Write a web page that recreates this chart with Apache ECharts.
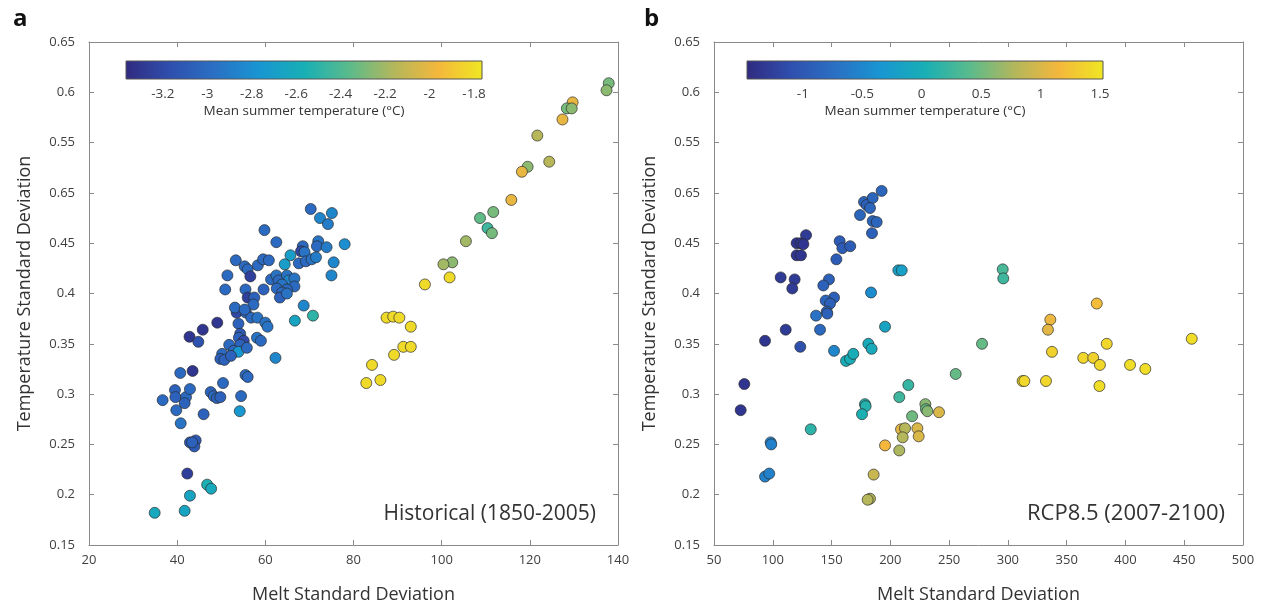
<!DOCTYPE html>
<html><head><meta charset="utf-8">
<script src="https://cdn.jsdelivr.net/npm/echarts@6/dist/echarts.min.js"></script>
<style>html,body{margin:0;padding:0;background:#fff}#c{width:1265px;height:609px}</style>
</head><body><div id="c"></div>
<script>
// ---- Panel a: Historical (1850-2005) ----
const histMelt = [34.9,41.7,42.9,46.8,47.7,42.3,42.9,44.2,43.9,43.4,36.7,39.5,39.6,39.8,40.8,40.7,43.5,42.0,41.7,42.9,46.0,47.6,48.3,49.0,49.8,50.4,54.5,54.2,55.5,56.0,62.3,66.7,70.8,68.7,42.8,44.8,45.8,49.1,53.9,53.5,55.6,56.8,58.2,60.0,60.5,54.3,54.0,55.1,54.3,51.8,52.8,53.9,55.8,50.2,49.8,50.7,52.2,58.1,59.0,
  70.3,72.4,75.1,74.2,59.8,62.5,68.5,68.1,68.9,72.0,71.7,73.9,78.0,65.7,64.4,67.6,69.2,70.5,71.5,75.5,75.0,53.3,55.3,56.0,58.3,59.5,60.8,56.6,51.4,50.9,55.5,59.6,56.0,57.5,57.3,53.1,55.3,61.3,62.5,63.0,64.9,65.3,66.6,66.6,63.8,62.6,64.9,63.8,63.3,64.9,
  137.9,137.4,129.7,128.4,129.5,127.4,121.7,124.4,119.5,118.2,115.8,111.7,108.7,110.4,111.4,105.5,102.4,100.4,101.8,96.2,87.5,89.0,90.4,93.0,91.3,93.0,89.2,84.2,82.9,86.1];
const histTemp = [0.182,0.184,0.199,0.210,0.206,0.221,0.252,0.254,0.248,0.252,0.294,0.304,0.297,0.284,0.271,0.321,0.323,0.297,0.291,0.305,0.280,0.302,0.298,0.296,0.297,0.311,0.298,0.283,0.319,0.317,0.336,0.373,0.378,0.388,0.357,0.352,0.364,0.371,0.370,0.381,0.381,0.376,0.376,0.371,0.367,0.360,0.356,0.353,0.349,0.349,0.343,0.342,0.346,0.340,0.335,0.334,0.338,0.356,0.353,
  0.484,0.475,0.480,0.469,0.463,0.451,0.447,0.442,0.441,0.452,0.447,0.446,0.449,0.438,0.429,0.430,0.432,0.434,0.436,0.431,0.418,0.433,0.427,0.424,0.428,0.434,0.433,0.417,0.418,0.404,0.404,0.404,0.396,0.396,0.389,0.386,0.384,0.414,0.418,0.413,0.418,0.413,0.415,0.407,0.409,0.405,0.404,0.401,0.396,0.400,
  0.609,0.602,0.590,0.584,0.584,0.573,0.557,0.531,0.526,0.521,0.493,0.481,0.475,0.465,0.460,0.452,0.431,0.429,0.416,0.409,0.376,0.377,0.376,0.367,0.347,0.347,0.339,0.329,0.311,0.314];
const histSummerT = [-2.62,-2.65,-2.65,-2.55,-2.62,-3.25,-3.1,-3.1,-3.1,-3.05,-3.0,-3.05,-3.05,-3.0,-2.95,-3.0,-3.3,-3.0,-3.05,-3.0,-3.05,-3.05,-3.0,-3.05,-3.05,-3.0,-3.0,-2.75,-3.0,-3.0,-2.85,-2.65,-2.5,-2.85,-3.3,-3.15,-3.3,-3.3,-3.05,-3.2,-3.0,-3.0,-2.95,-2.95,-2.95,-3.1,-3.05,-3.2,-3.05,-3.0,-3.0,-2.75,-3.0,-3.0,-3.05,-3.05,-3.05,-2.95,-3.0,
  -3.0,-2.85,-2.85,-2.9,-3.0,-3.0,-3.0,-3.2,-2.95,-2.95,-3.0,-2.9,-2.8,-2.7,-2.7,-3.0,-3.0,-2.95,-2.9,-2.85,-2.85,-3.0,-3.0,-3.0,-3.0,-3.0,-3.0,-3.25,-3.0,-3.0,-3.0,-3.05,-3.25,-3.05,-3.0,-3.0,-3.0,-3.0,-2.95,-3.0,-2.95,-2.85,-2.95,-3.0,-2.95,-3.0,-3.0,-3.0,-3.05,-2.95,
  -2.3,-2.25,-2.0,-2.3,-2.25,-2.0,-2.15,-2.15,-2.25,-2.0,-2.0,-2.3,-2.35,-2.45,-2.3,-2.2,-2.25,-2.2,-1.82,-1.82,-1.82,-1.82,-1.82,-1.82,-1.82,-1.82,-1.82,-1.82,-1.82,-1.82];

// ---- Panel b: RCP8.5 (2007-2100) ----
const rcpMelt = [192.6,177.6,179.9,185.0,182.7,174.2,185.0,188.4,184.4,128.3,120.3,123.7,126.0,120.3,124.0,156.9,159.2,165.9,154.1,106.7,118.6,116.6,147.8,143.0,152.1,145.0,148.7,145.9,146.4,136.8,140.2,111.0,93.4,123.4,152.1,162.3,165.7,168.5,181.3,184.1,183.6,195.5,206.8,209.7,75.8,72.7,215.3,207.6,178.4,179.0,175.9,98.2,98.7,93.4,97.0,132.3,182.7,180.7,185.8,195.5,207.6,209.1,212.5,210.5,218.5,223.0,224.1,229.8,230.3,231.5,241.4,255.6,278.0,295.6,296.1,375.6,336.1,334.1,337.5,384.1,456.4,364.1,372.6,378.3,403.9,416.9,312.5,314.0,332.4,377.9];
const rcpTemp = [0.502,0.491,0.488,0.495,0.485,0.478,0.472,0.471,0.460,0.458,0.450,0.450,0.449,0.438,0.438,0.452,0.445,0.447,0.434,0.416,0.414,0.405,0.414,0.408,0.396,0.393,0.390,0.382,0.380,0.378,0.364,0.364,0.353,0.347,0.343,0.333,0.335,0.340,0.350,0.345,0.401,0.367,0.423,0.423,0.310,0.284,0.309,0.297,0.290,0.288,0.280,0.252,0.250,0.218,0.221,0.265,0.196,0.195,0.220,0.249,0.244,0.265,0.266,0.257,0.278,0.266,0.258,0.290,0.285,0.283,0.282,0.320,0.350,0.424,0.415,0.390,0.374,0.364,0.342,0.350,0.355,0.336,0.336,0.329,0.329,0.325,0.313,0.313,0.313,0.308];
const rcpSummerT = [-0.85,-0.85,-0.9,-0.85,-0.85,-0.85,-0.85,-0.85,-0.9,-1.3,-1.35,-1.35,-1.35,-1.35,-1.35,-0.95,-0.95,-0.95,-0.95,-1.3,-1.3,-1.3,-0.9,-0.9,-0.9,-0.85,-0.9,-0.85,-0.9,-0.7,-0.8,-1.3,-1.35,-1.1,-0.5,0.0,0.0,0.0,-0.05,-0.05,-0.45,-0.15,-0.2,-0.2,-1.35,-1.35,0.2,0.25,0.1,0.1,0.05,-0.55,-0.55,-0.55,-0.55,0.15,0.8,0.8,0.9,1.15,0.75,1.05,0.8,0.8,0.5,1.0,1.0,0.6,0.45,0.6,1.0,0.45,0.45,0.3,0.25,1.2,1.1,1.05,1.35,1.4,1.45,1.4,1.35,1.4,1.45,1.45,1.45,1.4,1.4,1.45];

// axis / colour-bar tick labels and ranges
const yTickLabels = ['0.15','0.2','0.25','0.3','0.35','0.4','0.45','0.65','0.55','0.6','0.65'];
const cbarRangeA = [-3.366, -1.764];
const cbarTicksA = [-3.2,-3,-2.8,-2.6,-2.4,-2.2,-2,-1.8];
const cbarRangeB = [-1.47, 1.525];
const cbarTicksB = [-1,-0.5,0,0.5,1,1.5];
const parula = ['#302a80','#2f4fae','#2a70c4','#1896d2','#18afb5','#5abb8c','#b2b75c','#f4b73c','#efe722'];

const FONT = 'Open Sans';
const txt = '#404040';
const frame = '#8a8a8a';

const chart = echarts.init(document.getElementById('c'), null, {renderer:'canvas'});
const histData = histMelt.map((x,i)=>[x, histTemp[i], histSummerT[i]]);
const rcpData = rcpMelt.map((x,i)=>[x, rcpTemp[i], rcpSummerT[i]]);

const grids = [
  {left:89, right:647, top:42, bottom:62},
  {left:714, right:22, top:42, bottom:63},
  {left:126, width:356, top:61, height:18},
  {left:747, width:356, top:61, height:18}
];

function mainX(gi, min, max, interval, show){
  return {gridIndex:gi, type:'value', min, max, interval, position: show?'bottom':'top',
    axisLine:{show:true, onZero:false, lineStyle:{color:frame, width:1}},
    axisTick:{show:true, inside:true, length:5, lineStyle:{color:frame}},
    axisLabel:{show:show, color:txt, fontSize:13, fontFamily:FONT, margin:9},
    splitLine:{show:false},
    name: show?'Melt Standard Deviation':'', nameLocation:'middle', nameGap:41,
    nameTextStyle:{color:'#333', fontSize:18, fontFamily:FONT}};
}
function mainY(gi, show){
  return {gridIndex:gi, type:'value', min:0.15, max:0.65, interval:0.05, position: show?'left':'right',
    axisLine:{show:true, onZero:false, lineStyle:{color:frame, width:1}},
    axisTick:{show:true, inside:true, length:5, lineStyle:{color:frame}},
    axisLabel:{show:show, color:txt, fontSize:13, fontFamily:FONT, margin:14,
      formatter: v => yTickLabels[Math.round((v-0.15)/0.05)] || ''},
    splitLine:{show:false},
    name: show?'Temperature Standard Deviation':'', nameLocation:'middle', nameGap:55, nameRotate:90,
    nameTextStyle:{color:'#333', fontSize:18, fontFamily:FONT}};
}
function cbarX(gi, range, ticks, bottom){
  return {gridIndex:gi, type:'value', min:range[0], max:range[1], position: bottom?'bottom':'top',
    axisLine:{show:false},
    axisTick:{show:true, inside:true, length:4, customValues:ticks, lineStyle:{color:'#444'}},
    axisLabel:{show:bottom, customValues:ticks, color:txt, fontSize:13.5, fontFamily:FONT, margin:8},
    splitLine:{show:false},
    name: bottom?'Mean summer temperature (°C)':'', nameLocation:'middle', nameGap:25,
    nameTextStyle:{color:'#333', fontSize:13.5, fontFamily:FONT}};
}
function cbarSeries(ax, range){
  return {type:'custom', xAxisIndex:ax, yAxisIndex:ax, data:[[range[0], range[1]]], silent:true, z:1,
    renderItem:(params, api)=>{
      const p0 = api.coord([api.value(0), 0]);
      const p1 = api.coord([api.value(1), 1]);
      return {type:'rect', shape:{x:p0[0], y:p1[1], width:p1[0]-p0[0], height:p0[1]-p1[1]},
        style:{fill:new echarts.graphic.LinearGradient(0,0,1,0, parula.map((c,i)=>({offset:i/(parula.length-1), color:c}))),
          stroke:'#555', lineWidth:1}};
    }};
}

const option = {
  backgroundColor:'#fff',
  animation:false,
  textStyle:{fontFamily:FONT},
  title:[
    {text:'a', left:8, top:2, textStyle:{fontSize:24, fontWeight:'bold', color:'#111', fontFamily:FONT}},
    {text:'b', left:639, top:2, textStyle:{fontSize:24, fontWeight:'bold', color:'#111', fontFamily:FONT}},
    {text:'Historical (1850-2005)', right:664, top:499, textStyle:{fontSize:21, fontWeight:'normal', color:'#333', fontFamily:FONT}},
    {text:'RCP8.5 (2007-2100)', right:35, top:498, textStyle:{fontSize:22, fontWeight:'normal', color:'#333', fontFamily:FONT}}
  ],
  grid: grids,
  xAxis:[
    mainX(0,20,140,20,true), mainX(1,50,500,50,true),
    cbarX(2, cbarRangeA, cbarTicksA, true), cbarX(3, cbarRangeB, cbarTicksB, true),
    mainX(0,20,140,20,false), mainX(1,50,500,50,false),
    cbarX(2, cbarRangeA, cbarTicksA, false), cbarX(3, cbarRangeB, cbarTicksB, false)
  ],
  yAxis:[
    mainY(0,true), mainY(1,true),
    {gridIndex:2, type:'value', min:0, max:1, show:false},
    {gridIndex:3, type:'value', min:0, max:1, show:false},
    mainY(0,false), mainY(1,false)
  ],
  visualMap:[
    {type:'continuous', show:false, seriesIndex:0, dimension:2, min:cbarRangeA[0], max:cbarRangeA[1], inRange:{color:parula}},
    {type:'continuous', show:false, seriesIndex:1, dimension:2, min:cbarRangeB[0], max:cbarRangeB[1], inRange:{color:parula}}
  ],
  series:[
    {type:'scatter', xAxisIndex:0, yAxisIndex:0, data:histData, symbolSize:11, z:3,
      itemStyle:{borderColor:'rgba(40,40,40,0.85)', borderWidth:0.8, opacity:1}},
    {type:'scatter', xAxisIndex:1, yAxisIndex:1, data:rcpData, symbolSize:11, z:3,
      itemStyle:{borderColor:'rgba(40,40,40,0.85)', borderWidth:0.8, opacity:1}},
    cbarSeries(2, cbarRangeA),
    cbarSeries(3, cbarRangeB)
  ]
};
chart.setOption(option);
</script>
</body></html>
